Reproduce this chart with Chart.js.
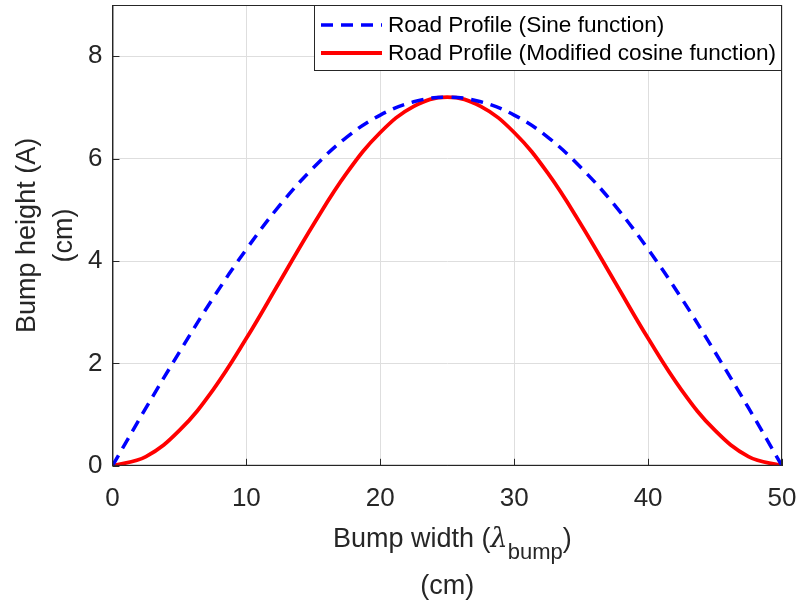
<!DOCTYPE html>
<html>
<head>
<meta charset="utf-8">
<script src="https://cdn.jsdelivr.net/npm/chart.js@4/dist/chart.umd.min.js"></script>
<style>
  html, body { margin: 0; padding: 0; background: #fff; }
  #wrap { width: 799px; height: 607px; }
</style>
</head>
<body>
<div id="wrap"><canvas id="bumpChart"></canvas></div>
<script>
// values
var bumpWidth = [0, 2.5, 5, 7.5, 10, 12.5, 15, 17.5, 20, 22.5, 25,
                 27.5, 30, 32.5, 35, 37.5, 40, 42.5, 45, 47.5, 50];
var sineProfile = [0, 1.13, 2.22, 3.27, 4.23, 5.09, 5.82, 6.42, 6.85, 7.11, 7.2,
                   7.11, 6.85, 6.42, 5.82, 5.09, 4.23, 3.27, 2.22, 1.13, 0];
var cosineProfile = [0, 0.18, 0.69, 1.48, 2.49, 3.6, 4.71, 5.72, 6.51, 7.02, 7.2,
                     7.02, 6.51, 5.72, 4.71, 3.6, 2.49, 1.48, 0.69, 0.18, 0];
var seriesLabels = ['Road Profile (Sine function)', 'Road Profile (Modified cosine function)'];
var xTicks = [0, 10, 20, 30, 40, 50];
var yTicks = [0, 2, 4, 6, 8];

function toPoints(xs, ys) {
    return xs.map(function (x, i) { return { x: x, y: ys[i] }; });
}

var FONT = 'Liberation Sans, Arial, Helvetica, sans-serif';
var TEXT = '#262626';

var matlabLook = {
    id: 'matlabLook',
    afterDraw: function (chart) {
        var ctx = chart.ctx;
        var a = chart.chartArea;
        var xs = chart.scales.x, ys = chart.scales.y;
        ctx.save();

        // box + inward ticks on left/bottom
        ctx.strokeStyle = TEXT;
        ctx.lineWidth = 1;
        ctx.strokeRect(a.left + 0.5, a.top + 0.5, a.right - a.left - 1, a.bottom - a.top - 1);
        ctx.beginPath();
        xTicks.forEach(function (t) {
            var px = Math.round(xs.getPixelForValue(t)) + 0.5;
            ctx.moveTo(px, a.bottom); ctx.lineTo(px, a.bottom - 7);
        });
        yTicks.forEach(function (t) {
            var py = Math.round(ys.getPixelForValue(t)) + 0.5;
            ctx.moveTo(a.left, py); ctx.lineTo(a.left + 7, py);
        });
        ctx.stroke();

        // y title (two lines, rotated)
        ctx.fillStyle = TEXT;
        ctx.textAlign = 'center';
        ctx.textBaseline = 'middle';
        ctx.font = '27px ' + FONT;
        var cy = (a.top + a.bottom) / 2;
        ctx.save();
        ctx.translate(28, cy);
        ctx.rotate(-Math.PI / 2);
        ctx.fillText('Bump height (A)', 0, 0);
        ctx.restore();
        ctx.save();
        ctx.translate(65, cy);
        ctx.rotate(-Math.PI / 2);
        ctx.fillText('(cm)', 0, 0);
        ctx.restore();

        // x title with subscript
        var main = 'Bump width (';
        var x0 = 333, by = 547;
        ctx.textAlign = 'left';
        ctx.textBaseline = 'alphabetic';
        ctx.font = '27px ' + FONT;
        var w1 = ctx.measureText(main).width;
        ctx.fillText(main, x0, by);
        ctx.font = 'italic 27px DejaVu Serif, serif';
        var wl = ctx.measureText('\u03BB').width;
        ctx.fillText('\u03BB', x0 + w1, by);
        ctx.font = '22px ' + FONT;
        var ws = ctx.measureText('bump').width;
        ctx.fillText('bump', x0 + w1 + wl, by + 12);
        ctx.font = '27px ' + FONT;
        ctx.fillText(')', x0 + w1 + wl + ws, by);
        ctx.textAlign = 'center';
        ctx.fillText('(cm)', (a.left + a.right) / 2, 594);

        // legend box inside the axes
        var lx = 314, ly = a.top, lw = a.right - lx, lh = 66;
        ctx.fillStyle = '#fff';
        ctx.fillRect(lx, ly, lw, lh);
        ctx.strokeStyle = TEXT;
        ctx.lineWidth = 1;
        ctx.strokeRect(lx + 0.5, ly + 0.5, lw - 1, lh - 1);
        chart.data.datasets.forEach(function (ds, i) {
            var yy = ly + 20 + i * 28;
            ctx.save();
            ctx.strokeStyle = ds.borderColor;
            ctx.lineWidth = ds.borderWidth;
            ctx.setLineDash(ds.borderDash || []);
            ctx.beginPath();
            ctx.moveTo(lx + 7, yy);
            ctx.lineTo(lx + 68, yy);
            ctx.stroke();
            ctx.restore();
            ctx.fillStyle = '#000';
            ctx.font = '22.6px ' + FONT;
            ctx.textAlign = 'left';
            ctx.textBaseline = 'middle';
            ctx.fillText(ds.label, lx + 74, yy + 1);
        });
        ctx.restore();
    }
};

var bumpChart = new Chart(document.getElementById('bumpChart'), {
    type: 'line',
    data: {
        datasets: [
            {
                label: seriesLabels[0],
                data: toPoints(bumpWidth, sineProfile),
                borderColor: '#0000ff',
                borderWidth: 3.5,
                borderDash: [12, 8],
                pointRadius: 0,
                tension: 0.4,
                fill: false
            },
            {
                label: seriesLabels[1],
                data: toPoints(bumpWidth, cosineProfile),
                borderColor: '#ff0000',
                borderWidth: 3.8,
                pointRadius: 0,
                tension: 0.4,
                fill: false
            }
        ]
    },
    options: {
        animation: false,
        responsive: true,
        maintainAspectRatio: false,
        layout: { padding: { left: 78, right: 17, top: 5, bottom: 76 } },
        plugins: {
            legend: { display: false },
            tooltip: { enabled: false }
        },
        scales: {
            x: {
                type: 'linear',
                min: 0,
                max: 50,
                afterBuildTicks: function (s) { s.ticks = xTicks.map(function (v) { return { value: v }; }); },
                // no overhang padding: the edge labels may sit past the axes
                afterFit: function (s) { s.paddingLeft = 0; s.paddingRight = 0; },
                ticks: { color: TEXT, font: { size: 26, family: FONT }, padding: 17, maxRotation: 0 },
                grid: { color: '#dedede', drawTicks: false },
                border: { color: TEXT }
            },
            y: {
                min: 0,
                max: 9,
                afterBuildTicks: function (s) { s.ticks = yTicks.map(function (v) { return { value: v }; }); },
                afterFit: function (s) { s.paddingTop = 0; s.paddingBottom = 0; },
                ticks: { color: TEXT, font: { size: 26, family: FONT }, padding: 10 },
                grid: { color: '#dedede', drawTicks: false },
                border: { color: TEXT }
            }
        }
    },
    plugins: [matlabLook]
});
</script>
</body>
</html>
